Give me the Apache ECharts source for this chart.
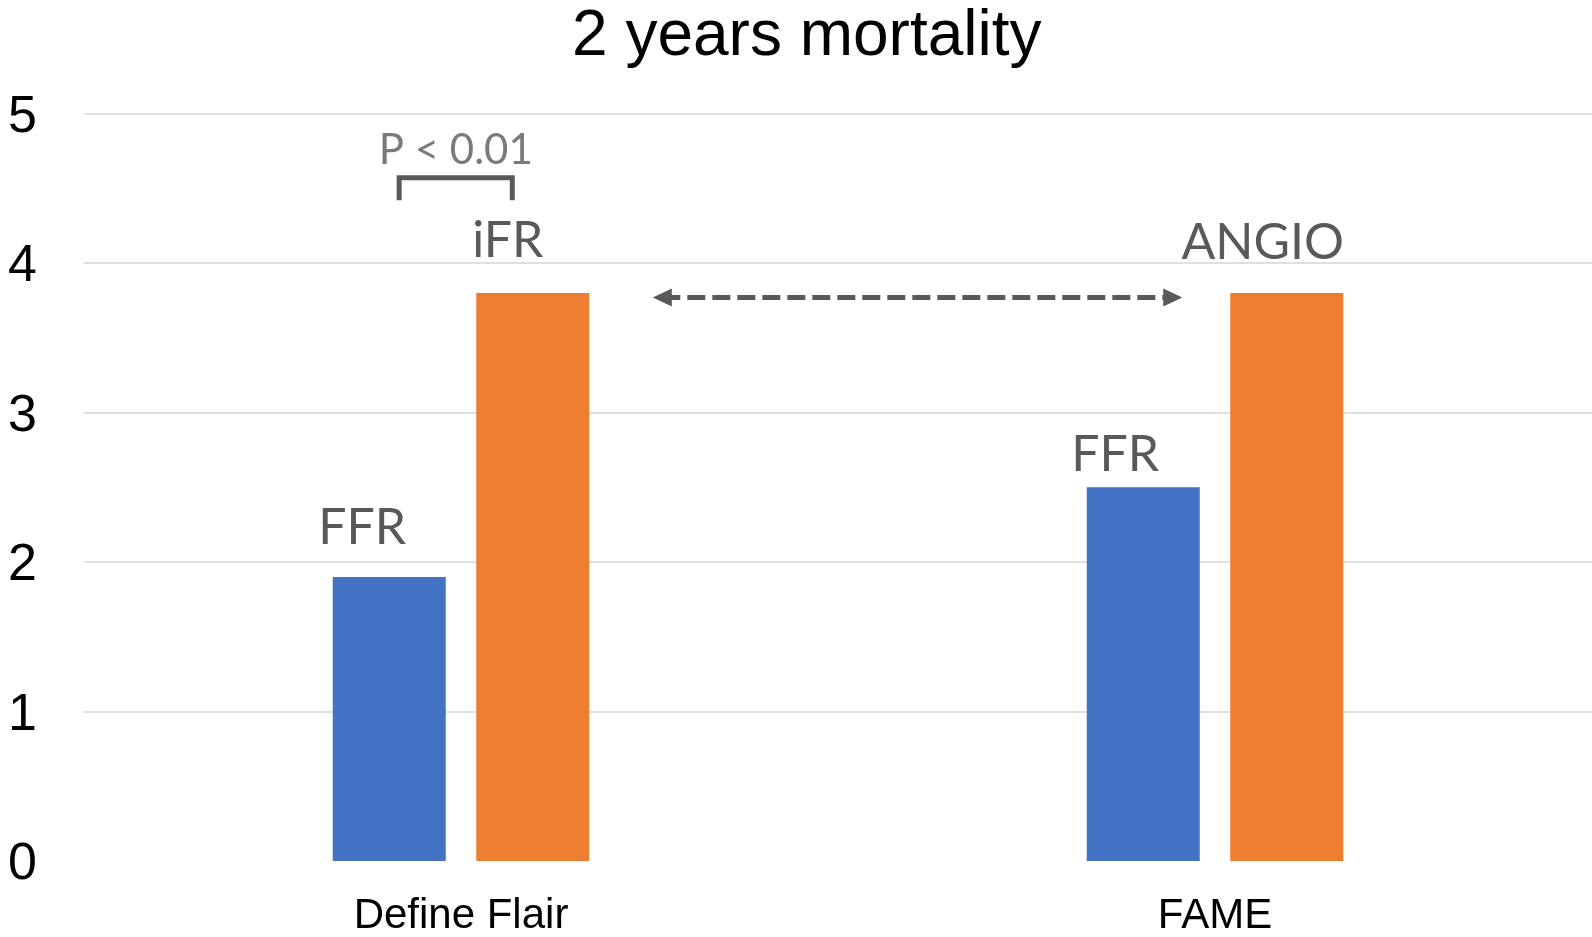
<!DOCTYPE html>
<html>
<head>
<meta charset="utf-8">
<script src="https://cdn.jsdelivr.net/npm/echarts@6/dist/echarts.min.js"></script>
<style>
html,body{margin:0;padding:0;background:#fff;}
#chart{width:1592px;height:937px;}
</style>
</head>
<body>
<div id="chart"></div>
<script>
const titleText = '2 years mortality';
const categories = ['Define Flair', 'FAME'];
const ffrValues = [1.9, 2.5];
const compValues = [3.8, 3.8];
const ffrLabels = ['FFR', 'FFR'];
const compLabels = ['iFR', 'ANGIO'];
const yMin = 0, yMax = 5, yInterval = 1;
const pText = 'P < 0.01';
// annotation positions in (category-span units, value) space
const bracketPoints = [[0.418, 4.42], [0.418, 4.57], [0.568, 4.57], [0.568, 4.42]];
const pTextPoint = [0.493, 4.57];
const arrowStart = [0.767, 3.77];
const arrowEnd = [1.444, 3.77];

const labelFont = 'Lato, "Open Sans", sans-serif';
const axisFont = '"Liberation Sans", Arial, sans-serif';
const grey = '#595959';

const ffrOffsets = [[-27, -24], [-28, -7]];
const compOffsets = [[-25, -27], [-24, -25]];

const chart = echarts.init(document.getElementById('chart'), null, {renderer: 'canvas'});
chart.setOption({
  animation: false,
  backgroundColor: '#ffffff',
  title: {
    text: titleText,
    left: 567,
    top: 0,
    textStyle: {fontFamily: axisFont, fontSize: 64, fontWeight: 'normal', color: '#000'}
  },
  grid: {left: 84, right: 0, top: 113.5, bottom: 73, containLabel: false},
  xAxis: [
    {
      type: 'category',
      data: categories,
      axisLine: {show: false},
      axisTick: {show: false},
      axisLabel: {fontFamily: axisFont, fontSize: 42, color: '#000', margin: 34}
    },
    {type: 'value', min: 0, max: 2, show: false}
  ],
  yAxis: {
    type: 'value',
    min: yMin, max: yMax, interval: yInterval,
    axisLine: {show: false},
    axisTick: {show: false},
    axisLabel: {
      fontFamily: axisFont, fontSize: 52, color: '#000', margin: 47,
      formatter: '{v|{value}}',
      rich: {v: {fontFamily: axisFont, fontSize: 52, color: '#000', padding: [8, 0, 0, 0]}}
    },
    splitLine: {show: true, showMinLine: false, lineStyle: {color: '#d4d4d4', width: 1.5}}
  },
  series: [
    {
      name: 'FFR',
      type: 'bar',
      barWidth: 113,
      barGap: '27%',
      itemStyle: {color: '#4472C4'},
      data: ffrValues.map((v, i) => ({
        value: v,
        label: {show: true, position: 'top', distance: 0, offset: ffrOffsets[i],
          formatter: ffrLabels[i], fontFamily: labelFont, fontSize: 50, color: grey}
      }))
    },
    {
      name: 'Comparator',
      type: 'bar',
      barWidth: 113,
      barGap: '27%',
      itemStyle: {color: '#ED7D31'},
      data: compValues.map((v, i) => ({
        value: v,
        label: {show: true, position: 'top', distance: 0, offset: compOffsets[i],
          formatter: compLabels[i], fontFamily: labelFont, fontSize: 50, color: grey}
      }))
    },
    {
      name: 'bracket',
      type: 'line',
      xAxisIndex: 1,
      symbol: 'none',
      silent: true,
      lineStyle: {color: grey, width: 5, cap: 'butt', join: 'miter'},
      data: bracketPoints,
      z: 5,
      markLine: {
        silent: true,
        symbol: ['triangle', 'triangle'],
        symbolSize: [18, 19],
        label: {show: false},
        lineStyle: {color: grey, width: 5, type: [18, 7]},
        itemStyle: {color: grey},
        data: [[{coord: arrowStart}, {coord: arrowEnd}]]
      }
    },
    {
      name: 'ptext',
      type: 'scatter',
      xAxisIndex: 1,
      symbolSize: 1,
      silent: true,
      itemStyle: {color: 'rgba(0,0,0,0)'},
      label: {show: true, position: 'top', distance: 6, formatter: pText,
        fontFamily: labelFont, fontSize: 42, color: grey},
      data: [pTextPoint]
    }
  ]
});
</script>
</body>
</html>
